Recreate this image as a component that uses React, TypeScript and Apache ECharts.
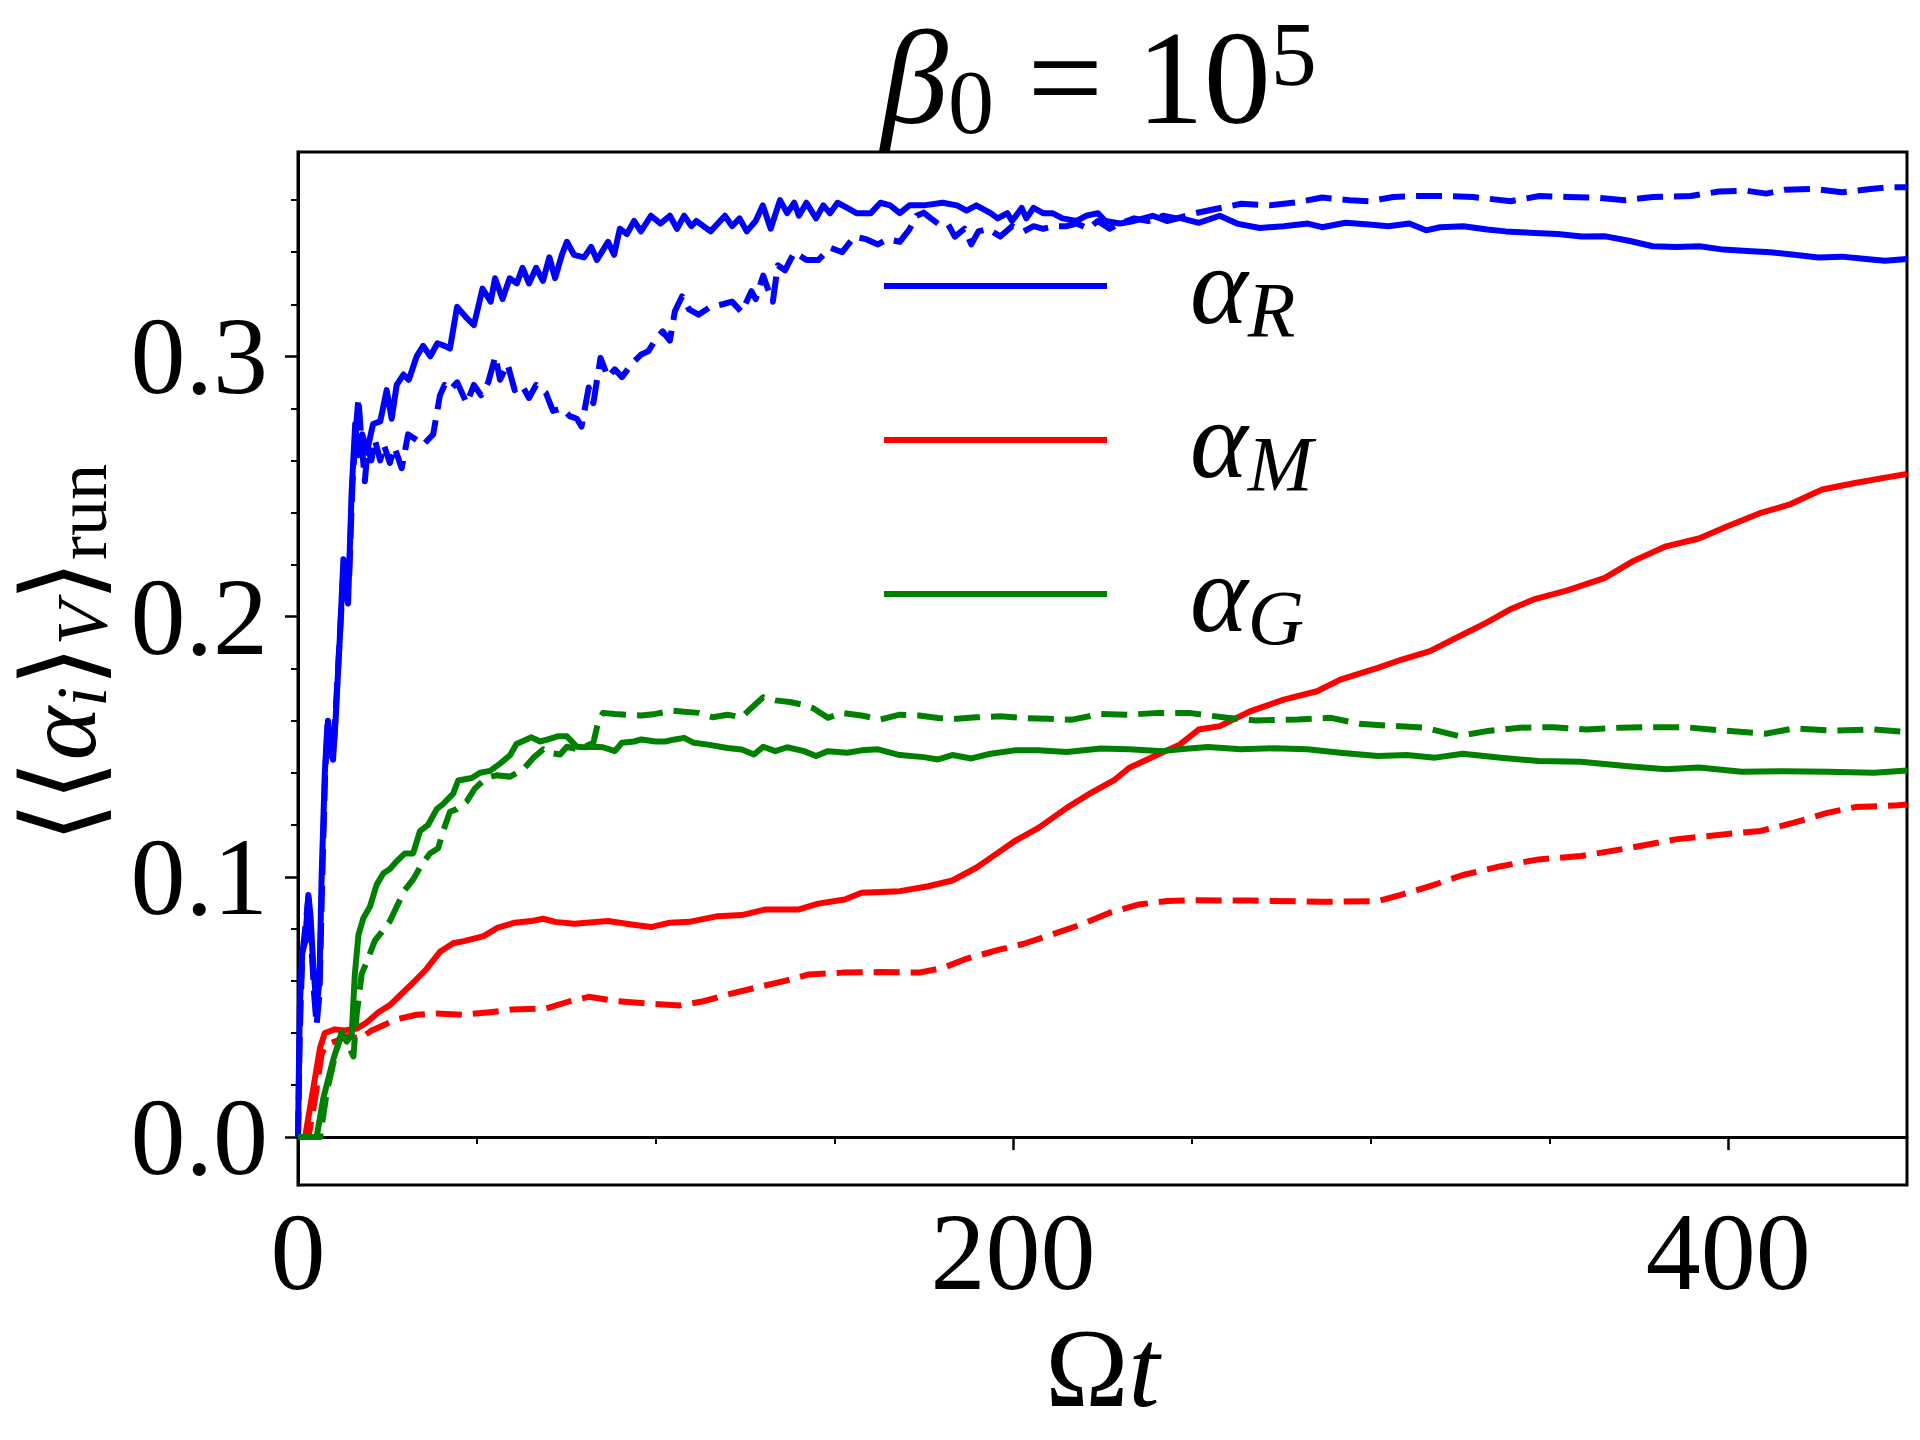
import React, { useEffect, useRef } from 'react';
import * as echarts from 'echarts';

// ---- axis ticks ----
const xTickLabels = [0, 200, 400];
const xMinorTicks = [50, 100, 150, 250, 300, 350, 450];
const yTickLabels = [0, 0.1, 0.2, 0.3];
const yMinorTicks = [0.02, 0.04, 0.06, 0.08, 0.12, 0.14, 0.16, 0.18, 0.22, 0.24, 0.26, 0.28, 0.32, 0.34, 0.36];
const xRange = [0, 450];
const yRange = [-0.0184, 0.3785];

// ---- series values: [Ωt, <<α_i>_V>_run] ----
const alphaRSolid = [[0,0],[0.5,0.05],[1.2,0.071],[2,0.075],[2.9,0.093],[3.5,0.085],[4.3,0.065],[5.2,0.05],[6,0.06],[6.6,0.1],[7.5,0.14],[8.2,0.158],[9,0.148],[9.8,0.145],[10.5,0.16],[11.7,0.192],[12.7,0.222],[13.4,0.21],[14,0.205],[15,0.248],[16,0.274],[16.9,0.262],[18,0.27],[19.2,0.263],[21,0.274],[23,0.275],[24.8,0.287],[26.2,0.276],[27.6,0.289],[29.5,0.293],[31,0.291],[33.2,0.3],[35,0.304],[37,0.3],[39,0.305],[41,0.304],[42.5,0.303],[44.5,0.319],[47,0.315],[49.2,0.312],[51.6,0.326],[53.9,0.321],[55.1,0.33],[57.2,0.322],[59.2,0.33],[61.2,0.328],[62.8,0.334],[64.6,0.328],[66.6,0.334],[68.5,0.329],[70.3,0.338],[71.9,0.33],[73.8,0.339],[75.2,0.344],[77.2,0.339],[80,0.338],[82,0.342],[83.6,0.337],[86.7,0.344],[88.4,0.339],[90,0.349],[92,0.347],[94,0.352],[95.9,0.348],[98.7,0.354],[101.4,0.351],[104,0.354],[106,0.349],[108,0.354],[110,0.35],[111.4,0.352],[115.4,0.348],[119.4,0.354],[121.4,0.35],[123.5,0.353],[125.5,0.348],[128,0.352],[130,0.358],[132.2,0.349],[134.8,0.36],[136.8,0.355],[138.8,0.359],[140.1,0.354],[142.2,0.359],[144.9,0.353],[146.9,0.358],[148.8,0.355],[150.9,0.359],[153.6,0.357],[156.2,0.355],[160.2,0.355],[162.9,0.359],[165.6,0.358],[168.3,0.355],[171,0.358],[175,0.358],[180.3,0.359],[184.3,0.358],[187,0.356],[189.7,0.358],[193.7,0.355],[195.7,0.353],[198.4,0.355],[199.7,0.352],[202.4,0.357],[203.7,0.353],[205.7,0.357],[208.4,0.355],[211,0.355],[213.8,0.353],[217.8,0.352],[220.4,0.354],[223.7,0.355],[225.8,0.352],[229.9,0.351],[233.8,0.352],[239,0.354],[243,0.352],[246.6,0.3532],[251.9,0.3513],[257.8,0.354],[262.6,0.351],[269,0.3493],[275.7,0.35],[282.4,0.351],[286.4,0.3496],[293,0.3513],[299.6,0.3506],[304.9,0.35],[310.8,0.351],[315.5,0.3484],[319.4,0.3496],[326,0.35],[332.6,0.3487],[337.8,0.348],[344.5,0.3475],[352.3,0.347],[359,0.346],[365.7,0.3461],[372.2,0.3444],[378.9,0.3423],[385.5,0.342],[392,0.3423],[398.7,0.341],[405.3,0.3405],[411.8,0.34],[418.5,0.339],[425.2,0.338],[431.8,0.3383],[438.5,0.3374],[443.8,0.3367],[450,0.3374]];

const alphaRDashed = [[0,0],[0.5,0.04],[1.2,0.07],[2,0.08],[2.9,0.092],[3.7,0.075],[4.5,0.055],[5.2,0.043],[6,0.055],[6.8,0.1],[7.6,0.14],[8.4,0.16],[9.2,0.15],[10,0.15],[11,0.175],[12,0.2],[12.8,0.22],[13.5,0.21],[14.3,0.215],[15.2,0.25],[16.2,0.272],[16.9,0.284],[17.6,0.27],[18.7,0.252],[19.5,0.265],[20.5,0.26],[21.5,0.268],[23,0.26],[24,0.266],[25.7,0.259],[27,0.265],[29,0.257],[30.8,0.27],[33,0.268],[35,0.266],[37.8,0.27],[39.7,0.285],[41,0.289],[42.5,0.287],[44.5,0.29],[47.2,0.282],[49.2,0.289],[51.2,0.285],[53.2,0.29],[55.2,0.3],[56.5,0.291],[58.6,0.297],[60.6,0.287],[62.6,0.289],[64.6,0.284],[66.6,0.289],[69.3,0.286],[71.3,0.279],[73.9,0.28],[76,0.277],[78,0.276],[79.3,0.273],[81.3,0.288],[82.6,0.282],[84.6,0.2994],[86.7,0.292],[88.6,0.295],[90.6,0.292],[93.3,0.297],[96,0.3007],[98,0.302],[100,0.3064],[102,0.3096],[104,0.306],[105.4,0.3173],[107.4,0.323],[109.4,0.318],[112,0.316],[115.4,0.319],[118.8,0.32],[121.4,0.321],[124.1,0.317],[126.8,0.325],[128,0.322],[130.1,0.331],[131.4,0.326],[132.8,0.321],[134.2,0.335],[136.2,0.333],[138.8,0.34],[142.2,0.337],[145.5,0.337],[148.9,0.3417],[152.2,0.34],[155.6,0.346],[158.9,0.345],[162.2,0.343],[164.9,0.345],[168.3,0.344],[171,0.3488],[173,0.354],[175,0.3552],[177,0.353],[179,0.351],[181.7,0.351],[183.7,0.346],[186.4,0.349],[188.3,0.343],[190.3,0.348],[193,0.349],[196.4,0.346],[199.7,0.35],[203,0.348],[205.7,0.35],[208.4,0.349],[211.7,0.35],[215,0.35],[217.8,0.351],[221,0.349],[223.7,0.352],[227,0.349],[229.9,0.351],[233.8,0.353],[237.8,0.352],[241.9,0.354],[245.8,0.353],[251,0.355],[255.9,0.3564],[263.8,0.3586],[271.8,0.358],[279.6,0.3592],[286.4,0.361],[294.2,0.36],[299.6,0.3596],[306.3,0.3612],[312.8,0.3616],[320.8,0.3616],[328.6,0.3612],[339.2,0.3596],[347.2,0.3616],[355.1,0.3612],[363,0.361],[371,0.36],[378.9,0.3612],[389.5,0.3616],[397.4,0.3633],[405.3,0.3636],[410.6,0.3625],[415.9,0.364],[423.9,0.3643],[431.8,0.363],[439.8,0.3643],[445,0.365],[450,0.365]];

const alphaMSolid = [[0,0],[2,0],[4.3,0.019],[6.2,0.0345],[7.5,0.04],[10.3,0.0414],[13.1,0.041],[16.4,0.0417],[19.2,0.044],[22.5,0.048],[25.7,0.0507],[28.5,0.0544],[32.2,0.0593],[36,0.0647],[39.7,0.0712],[43.4,0.0745],[46.4,0.0753],[51.9,0.0772],[55.9,0.0805],[60.6,0.0824],[65.2,0.083],[68.6,0.0839],[71.9,0.0827],[77.3,0.082],[86.7,0.083],[93.3,0.0817],[98.7,0.0807],[104,0.0824],[109.4,0.0827],[117.4,0.0849],[124.1,0.0853],[130.8,0.0875],[140.1,0.0875],[145.5,0.0897],[152.9,0.0913],[157.6,0.0939],[168.3,0.0945],[176.3,0.0964],[183,0.0986],[189.7,0.1035],[193.7,0.1073],[200.4,0.1137],[207.1,0.1188],[215,0.1265],[221.8,0.1323],[228.5,0.1374],[232.5,0.1419],[240.5,0.147],[246.6,0.1508],[251.9,0.1566],[257.8,0.1579],[266.5,0.1637],[275.7,0.1681],[285,0.1713],[291.5,0.1758],[302,0.1803],[308.7,0.1835],[316.6,0.1867],[325.8,0.1931],[332.3,0.1976],[338.9,0.2027],[345.6,0.2066],[354.8,0.21],[365.5,0.2149],[373.4,0.2213],[382.6,0.227],[391.8,0.23],[399.8,0.2347],[409,0.2398],[417,0.243],[426.3,0.2488],[435.5,0.2513],[443.5,0.2533],[450,0.2548]];

const alphaMDashed = [[0,0],[2.9,0],[4.8,0.015],[6.6,0.032],[8,0.0356],[10.8,0.037],[14,0.0388],[17.3,0.0378],[20.6,0.041],[23.9,0.043],[27.6,0.0453],[33.2,0.047],[38.8,0.0475],[46.2,0.047],[53.7,0.048],[59.8,0.049],[69.3,0.0494],[76,0.0522],[81.3,0.0539],[89.3,0.0522],[98.7,0.0512],[106.7,0.0506],[113.4,0.0522],[120.1,0.0548],[128,0.0574],[136.2,0.06],[142.8,0.0625],[152.2,0.0632],[162.9,0.0634],[173.7,0.0632],[180.4,0.065],[187.1,0.0686],[196.4,0.0721],[203,0.0743],[211,0.0779],[219.1,0.0817],[227,0.0862],[235.2,0.0894],[243.2,0.0907],[251.2,0.091],[266.5,0.0909],[286.3,0.0904],[302,0.0907],[308.7,0.0932],[316.6,0.0964],[325.8,0.1007],[336.4,0.1041],[347,0.1067],[358.8,0.108],[372,0.111],[385.2,0.1144],[398.6,0.1163],[409,0.1176],[418.4,0.1208],[427.7,0.1246],[435.5,0.1268],[447.5,0.1275],[450,0.1278]];

const alphaGSolid = [[0,0],[5.2,0],[7.1,0.015],[9.9,0.03],[12.2,0.04],[13.6,0.0367],[15,0.039],[15.9,0.0626],[16.9,0.0777],[18.3,0.0842],[20.1,0.0885],[22,0.097],[23.9,0.1014],[25.7,0.103],[27.6,0.106],[29.9,0.109],[32.2,0.109],[34.1,0.1176],[36.4,0.12],[38.8,0.126],[40.6,0.128],[43.4,0.132],[44.8,0.137],[48.6,0.138],[50.9,0.14],[53.7,0.1407],[56.5,0.1435],[59.3,0.1467],[61.1,0.151],[65.3,0.1536],[67.7,0.152],[69.9,0.1528],[72.6,0.154],[75.2,0.154],[78,0.15],[80,0.1498],[82.6,0.15],[85.3,0.1498],[88.6,0.1483],[90.6,0.1515],[94,0.152],[96,0.1528],[100,0.152],[102.7,0.152],[105.4,0.1528],[108,0.1534],[110.7,0.1515],[114.7,0.1508],[120.1,0.1495],[124.1,0.1489],[127.5,0.147],[130.1,0.15],[133.5,0.1483],[136.8,0.1498],[141.5,0.1483],[144.9,0.1464],[148.2,0.1483],[153.6,0.1477],[157.6,0.1486],[162.2,0.149],[168.3,0.1468],[175,0.146],[179,0.1451],[183,0.1468],[188.3,0.1455],[193.7,0.1473],[200.4,0.1486],[207.1,0.1486],[215,0.148],[224.5,0.1493],[232.5,0.149],[241.9,0.1483],[246.6,0.149],[254.5,0.1499],[263.7,0.149],[272.9,0.1494],[282.3,0.149],[291.5,0.1477],[302,0.1464],[310,0.1468],[318,0.1458],[325.8,0.1473],[336.4,0.1458],[347,0.1445],[358.8,0.1442],[372,0.1425],[382.6,0.1413],[391.8,0.142],[403.8,0.1404],[415.7,0.1406],[427.7,0.1404],[440.8,0.14],[450,0.1409]];

const alphaGDashed = [[0,0],[6.2,0],[8,0.017],[10.3,0.031],[12.2,0.04],[14,0.0356],[15.5,0.031],[16.4,0.047],[17.8,0.0626],[19.7,0.069],[21.5,0.0755],[23.4,0.0788],[25.7,0.083],[27.6,0.0885],[29.9,0.095],[32.2,0.099],[34.6,0.1047],[36.9,0.109],[39.2,0.111],[40.6,0.1176],[42.5,0.125],[44.4,0.126],[47.2,0.129],[49.5,0.134],[52.7,0.138],[55.5,0.139],[59.3,0.1385],[63,0.1413],[65.8,0.1457],[68.6,0.149],[70,0.1477],[73.3,0.147],[75.2,0.15],[78.6,0.1489],[82.6,0.1515],[84,0.1598],[85.3,0.163],[88.6,0.1626],[92,0.1623],[96,0.162],[100,0.1626],[104.7,0.1639],[108,0.1634],[112,0.163],[116,0.1613],[120.1,0.1623],[124.1,0.1613],[126.8,0.1649],[130.1,0.169],[133.5,0.1678],[137.5,0.1672],[140.9,0.1662],[144.2,0.1647],[148.2,0.1611],[152.2,0.163],[157.6,0.162],[162.9,0.1605],[168.3,0.1623],[173.7,0.162],[179,0.161],[184.3,0.1607],[189.7,0.1613],[196.4,0.1617],[203,0.161],[209.8,0.1607],[216.5,0.1604],[224.5,0.1626],[232.5,0.1623],[240.5,0.163],[249.3,0.163],[259.8,0.1611],[267.7,0.1601],[279.6,0.1605],[288.9,0.1611],[296.8,0.1588],[306,0.158],[315.3,0.1573],[324.5,0.1541],[332.5,0.156],[341.7,0.1573],[351,0.1575],[360.3,0.1566],[369.5,0.1573],[378.8,0.1575],[388,0.1575],[398.6,0.1562],[410.4,0.155],[418.4,0.157],[428.9,0.1562],[440.8,0.1566],[450,0.1557]];

const legendNames = ['αR', 'αM', 'αG'];
const legendSubs: Record<string, string> = { 'αR': 'R', 'αM': 'M', 'αG': 'G' };

const FONT = 'Liberation Serif, serif';
const BRACKET_FONT = 'DejaVu Serif, DejaVu Sans, serif';
const BLUE = '#0000ff';
const RED = '#ff0000';
const GREEN = '#008000';
const DASH = [26, 11];

function lineSeries(name: string, data: number[][], color: string, dashed: boolean) {
  return {
    type: 'line',
    name,
    data,
    color,
    showSymbol: false,
    symbol: 'none',
    silent: true,
    lineStyle: { width: 6, color, type: dashed ? DASH : 'solid', cap: 'butt', join: 'round' },
    emphasis: { disabled: true },
  };
}

const txt = (extra: any) => ({ fontFamily: FONT, fontWeight: 'normal', color: '#000', ...extra });

export default function App() {
  const ref = useRef<HTMLDivElement>(null);
  useEffect(() => {
    document.body.style.margin = '0';
    const chart = echarts.init(ref.current as HTMLDivElement, null, { renderer: 'svg' });
    const option: any = {
      animation: false,
      backgroundColor: '#ffffff',
      title: {
        text: '{b|β}{s|0}{m| = 10}{p|5}',
        left: 1099,
        top: 8,
        padding: 0,
        textAlign: 'center',
        textStyle: {
          fontFamily: FONT,
          fontWeight: 'normal',
          rich: {
            b: txt({ fontStyle: 'italic', fontSize: 134, lineHeight: 140 }),
            s: txt({ fontSize: 92, lineHeight: 64, verticalAlign: 'bottom' }),
            m: txt({ fontSize: 134, lineHeight: 140 }),
            p: txt({ fontSize: 92, lineHeight: 92, verticalAlign: 'top' }),
          },
        },
      },
      legend: {
        data: legendNames,
        orient: 'vertical',
        left: 884,
        top: 231,
        padding: 0,
        itemWidth: 223,
        itemHeight: 6,
        itemGap: 37,
        icon: 'rect',
        selectedMode: false,
        formatter: (name: string) => `{a|α}{s|${legendSubs[name]}}`,
        textStyle: {
          fontFamily: FONT,
          rich: {
            a: txt({ fontStyle: 'italic', fontSize: 110, lineHeight: 124, padding: [0, 0, 0, 78] }),
            s: txt({ fontStyle: 'italic', fontSize: 78, lineHeight: 78, verticalAlign: 'bottom' }),
          },
        },
      },
      grid: {
        left: 298,
        right: 13,
        top: 152,
        bottom: 255,
        show: true,
        borderColor: '#000',
        borderWidth: 3,
        backgroundColor: 'transparent',
        containLabel: false,
        outerBoundsMode: 'none',
      },
      xAxis: [
        {
          type: 'value',
          min: xRange[0],
          max: xRange[1],
          interval: 50,
          position: 'bottom',
          splitLine: { show: false },
          axisLine: { show: true, lineStyle: { color: '#000', width: 3 } },
          axisTick: { show: true, inside: false, length: 13, lineStyle: { color: '#000', width: 2.5 }, customValues: xTickLabels },
          axisLabel: {
            show: true,
            customValues: xTickLabels,
            showMinLabel: true,
            fontFamily: FONT,
            fontSize: 110,
            color: '#000',
            margin: 12,
            formatter: (v: number) => String(v),
          },
          name: '{o|Ω}{t|t}',
          nameLocation: 'middle',
          nameGap: 126,
          nameTextStyle: {
            fontFamily: FONT,
            rich: {
              o: txt({ fontSize: 112, lineHeight: 110 }),
              t: txt({ fontStyle: 'italic', fontSize: 112, lineHeight: 110 }),
            },
          },
        },
        {
          type: 'value',
          min: xRange[0],
          max: xRange[1],
          interval: 50,
          position: 'bottom',
          offset: 0,
          splitLine: { show: false },
          axisLine: { show: false },
          axisLabel: { show: false },
          axisTick: { show: true, inside: false, length: 7, lineStyle: { color: '#000', width: 2 }, customValues: xMinorTicks },
        },
      ],
      yAxis: [
        {
          type: 'value',
          min: yRange[0],
          max: yRange[1],
          position: 'left',
          splitLine: { show: false },
          axisLine: { show: true, lineStyle: { color: '#000', width: 3 } },
          axisTick: { show: true, inside: false, length: 13, lineStyle: { color: '#000', width: 2.5 }, customValues: yTickLabels },
          axisLabel: {
            show: true,
            customValues: yTickLabels,
            fontFamily: FONT,
            fontSize: 110,
            color: '#000',
            margin: 30,
            formatter: (v: number) => v.toFixed(1),
          },
          name: '{br|⟨⟨}{a|α}{i|i}{br|⟩}{v|V}{br|⟩}{r|run}',
          nameLocation: 'middle',
          nameRotate: 90,
          nameGap: 180,
          nameTextStyle: {
            fontFamily: FONT,
            padding: [0, 0, 0, 30],
            rich: {
              br: { fontFamily: BRACKET_FONT, fontWeight: 'normal', color: '#000', fontSize: 106, lineHeight: 116 },
              a: txt({ fontStyle: 'italic', fontSize: 102, lineHeight: 116 }),
              i: txt({ fontStyle: 'italic', fontSize: 72, lineHeight: 52, verticalAlign: 'bottom' }),
              v: txt({ fontStyle: 'italic', fontSize: 72, lineHeight: 52, verticalAlign: 'bottom' }),
              r: txt({ fontSize: 72, lineHeight: 52, verticalAlign: 'bottom' }),
            },
          },
        },
        {
          type: 'value',
          min: yRange[0],
          max: yRange[1],
          position: 'left',
          offset: 0,
          splitLine: { show: false },
          axisLine: { show: false },
          axisLabel: { show: false },
          axisTick: { show: true, inside: false, length: 7, lineStyle: { color: '#000', width: 2 }, customValues: yMinorTicks },
        },
      ],
      series: [
        lineSeries('αR', alphaRSolid, BLUE, false),
        lineSeries('αR run', alphaRDashed, BLUE, true),
        lineSeries('αM', alphaMSolid, RED, false),
        lineSeries('αM run', alphaMDashed, RED, true),
        lineSeries('αG', alphaGSolid, GREEN, false),
        lineSeries('αG run', alphaGDashed, GREEN, true),
      ],
    };
    chart.setOption(option);
    return () => chart.dispose();
  }, []);
  return <div ref={ref} style={{ width: 1920, height: 1440 }} />;
}
